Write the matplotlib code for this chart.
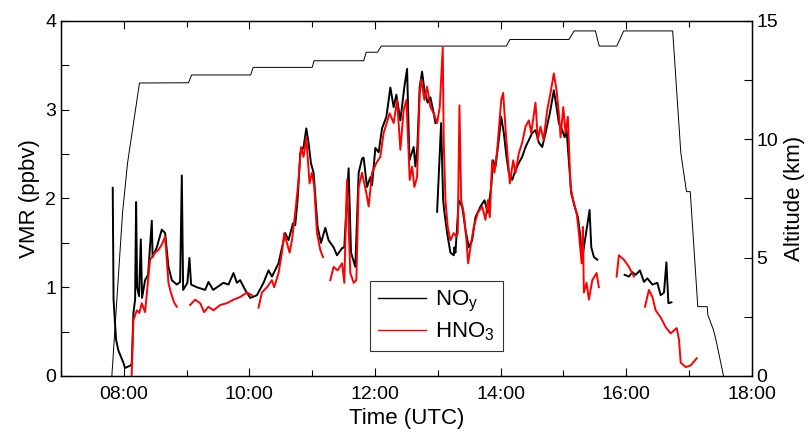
import numpy as np
import matplotlib
matplotlib.use("Agg")
import matplotlib.pyplot as plt
from matplotlib.ticker import MultipleLocator, FuncFormatter

plt.rcParams['font.family'] = ['Liberation Sans', 'DejaVu Sans']
plt.rcParams['mathtext.fontset'] = 'custom'
plt.rcParams['mathtext.rm'] = 'Liberation Sans'
plt.rcParams['mathtext.it'] = 'Liberation Sans'

# times in decimal hours (UTC), NaN = data gap
noy_t = [7.824, 7.837, 7.877, 7.913, 7.993, 8.020, 8.111, 8.127, 8.153, 8.180, 8.196, 8.212, 8.243,
         8.271, 8.291, 8.339, 8.387, 8.446, 8.459, 8.526, 8.605, 8.658, 8.711, 8.765, 8.844, 8.897,
         8.924, 8.945, 9.013, 9.045, 9.072, 9.163, 9.296, 9.348, 9.423, 9.587, 9.667, 9.747, 9.801,
         9.853, 9.933, 10.013, 10.12, 10.225, 10.305, 10.359, 10.464, 10.571, 10.623, 10.694, 10.73,
         10.767, 10.81, 10.863, 10.906, 10.942, 10.98, 11.022, 11.086, 11.14, 11.209, 11.261, 11.341,
         11.395, 11.475, 11.511, 11.58, 11.618, 11.687, 11.74, 11.794, 11.819, 11.873, 11.926, 11.953,
         12.006, 12.058, 12.112, 12.181, 12.245, 12.297, 12.34, 12.404, 12.468, 12.511, 12.548, 12.616,
         12.643, 12.675, 12.712, 12.75, 12.787, 12.839, 12.882, 12.935, 12.962, 12.975,
         12.989, 13.053, 13.085, 13.106, 13.149, 13.201, 13.254, 13.265, 13.281, 13.334, 13.388, 13.441,
         13.493, 13.547, 13.60, 13.68, 13.743, 13.796, 13.85, 13.882, 13.919, 13.971, 14.01, 14.051,
         14.094, 14.131, 14.185, 14.238, 14.29, 14.344, 14.397, 14.45, 14.504, 14.556, 14.609, 14.663,
         14.716, 14.784, 14.848, 14.891, 14.928, 14.982, 15.019, 15.051, 15.087, 15.125, 15.178, 15.231,
         15.263, 15.301, 15.326, 15.369, 15.417, 15.444, 15.486, 15.54, 15.75,
         15.975, 16.044, 16.098, 16.151, 16.219, 16.283, 16.337, 16.417, 16.496, 16.549, 16.602, 16.64,
         16.672, 16.72]
noy_v = [2.12, 0.86, 0.41, 0.29, 0.15, 0.09, 0.12, 0.14, 0.71, 0.86, 1.96, 1.00, 0.90,
         1.54, 0.88, 1.08, 1.14, 1.75, 1.34, 1.45, 1.65, 1.61, 1.23, 1.08, 1.03, 1.06,
         2.26, 0.97, 1.05, 1.33, 1.03, 1.00, 0.97, 1.06, 0.97, 1.05, 1.03, 1.16, 1.05,
         1.08, 0.97, 0.88, 0.91, 1.05, 1.19, 1.12, 1.27, 1.61, 1.53, 1.72, 1.70,
         1.98, 2.51, 2.58, 2.79, 2.63, 2.40, 2.29, 1.68, 1.50, 1.67, 1.53, 1.45,
         1.36, 1.44, 1.45, 2.34, 1.39, 1.23, 2.29, 2.45, 2.46, 2.13, 2.24, 2.15,
         2.57, 2.52, 2.79, 2.92, 3.25, 3.03, 3.17, 2.88, 3.26, 3.46, 2.43, 2.58,
         2.36, 2.58, 3.26, 3.43, 3.22, 3.08, 3.14, 2.96, 2.85, np.nan,
         1.85, 2.85, 1.98, 1.84, 1.61, 1.39, 1.36, 1.45, 1.39, 1.98, 1.91, 1.65,
         1.45, 1.53, 1.79, 1.91, 1.98, 1.84, 2.13, 2.43, 2.36, 2.66, 2.92, 2.74,
         2.47, 2.29, 2.21, 2.32, 2.40, 2.47, 2.58, 2.66, 2.74, 2.77, 2.63, 2.58,
         2.74, 2.96, 3.22, 3.03, 2.85, 2.77, 2.69, 2.77, 2.43, 2.06, 1.91, 1.79,
         1.61, 1.31, 1.45, 1.65, 1.87, 1.45, 1.34, 1.31, np.nan,
         1.14, 1.12, 1.17, 1.14, 1.19, 1.06, 1.10, 1.03, 1.05, 0.91, 0.94, 1.28,
         0.82, 0.83]

hno3_t = [8.125, 8.153, 8.207, 8.248, 8.286, 8.339, 8.376, 8.419, 8.498, 8.551, 8.605, 8.658, 8.685,
          8.711, 8.749, 8.801, 8.844, 8.95,
          9.056, 9.136, 9.216, 9.28, 9.348, 9.428, 9.535, 9.641, 9.747, 9.853, 9.96, 10.04, 10.09,
          10.145, 10.199, 10.279, 10.359, 10.395, 10.464, 10.518, 10.555, 10.64, 10.678, 10.73, 10.783,
          10.821, 10.863, 10.906, 10.958, 10.997, 11.033, 11.076, 11.129, 11.172, 11.23,
          11.288, 11.341, 11.405, 11.475, 11.511, 11.554, 11.607, 11.66, 11.703, 11.74, 11.794, 11.862,
          11.899, 11.953, 12.022, 12.085, 12.138, 12.234, 12.297, 12.352, 12.404, 12.457, 12.50, 12.553,
          12.591, 12.627, 12.67, 12.712, 12.734, 12.787, 12.83, 12.882, 12.935, 12.989, 13.031, 13.079,
          13.094, 13.122, 13.158, 13.201, 13.254, 13.297, 13.318, 13.345, 13.372, 13.413, 13.456, 13.483,
          13.531, 13.573, 13.637, 13.707, 13.759, 13.796, 13.828, 13.866, 13.903, 13.946, 14.01, 14.041,
          14.083, 14.147, 14.201, 14.238, 14.29, 14.344, 14.397, 14.45, 14.488, 14.556, 14.593, 14.636,
          14.684, 14.743, 14.795, 14.848, 14.891, 14.928, 14.955, 14.998, 15.034, 15.071, 15.114, 15.157,
          15.21, 15.247, 15.29, 15.31, 15.326, 15.369, 15.406, 15.46, 15.529, 15.565, 15.7,
          15.847, 15.884, 15.964, 16.044, 16.123, 16.2,
          16.299, 16.362, 16.417, 16.469, 16.549, 16.629, 16.708, 16.804, 16.841, 16.868, 16.947, 17.027,
          17.123]
hno3_v = [0.00, 0.63, 0.74, 0.71, 0.82, 0.72, 1.00, 1.31, 1.39, 1.42, 1.48, 1.57, 1.31,
          1.05, 0.94, 0.83, 0.78, np.nan,
          0.80, 0.86, 0.82, 0.72, 0.78, 0.74, 0.80, 0.82, 0.86, 0.89, 0.94, 0.91, np.nan,
          0.77, 0.94, 1.00, 1.08, 1.00, 1.16, 1.39, 1.61, 1.39, 1.53, 1.84, 2.21,
          2.58, 2.47, 2.69, 2.17, 2.29, 2.13, 1.61, 1.42, 1.34, np.nan,
          1.08, 1.23, 1.19, 1.27, 1.05, 2.21, 1.16, 1.05, 1.08, 2.13, 2.29, 2.06,
          1.91, 2.29, 2.40, 2.47, 2.74, 2.96, 2.85, 3.11, 2.55, 3.00, 3.11, 2.21,
          2.36, 2.13, 2.24, 3.19, 3.34, 3.11, 3.26, 3.03, 2.96, 2.85, 3.03, 3.70,
          2.66, 1.98, 1.68, 1.53, 1.61, 1.57, 1.61, 3.05, 1.98, 1.84, 1.53, 1.27,
          1.50, 1.68, 1.84, 1.91, 1.76, 1.98, 1.79, 2.43, 2.29, 2.55, 3.11, 3.19,
          2.74, 2.17, 2.43, 2.29, 2.51, 2.63, 2.81, 2.88, 2.74, 3.08, 2.66, 2.81,
          2.66, 3.00, 3.19, 3.41, 3.22, 2.96, 2.69, 3.03, 2.74, 2.92, 2.13, 1.98,
          1.84, 1.61, 1.27, 1.68, 0.94, 1.05, 0.86, 1.08, 1.16, 1.00, np.nan,
          1.12, 1.36, 1.31, 1.23, 1.12, np.nan,
          0.78, 0.97, 0.89, 0.74, 0.66, 0.55, 0.48, 0.54, 0.41, 0.15, 0.10, 0.12,
          0.20]

alt_t = [7.81, 7.98, 8.06, 8.25, 9.03, 9.08, 10.02, 10.06, 11.0, 11.03, 11.82, 11.86, 12.04, 12.10,
         14.09, 14.15, 15.09, 15.17, 15.51, 15.57, 15.85, 15.96, 16.74, 16.87, 16.96, 17.02, 17.14,
         17.29, 17.30, 17.35, 17.39, 17.43, 17.55]
alt_km = [0.0, 6.89, 9.0, 12.38, 12.39, 12.72, 12.72, 13.04, 13.04, 13.32, 13.32, 13.68, 13.68, 13.94,
          13.94, 14.22, 14.22, 14.58, 14.58, 13.94, 13.94, 14.58, 14.58, 9.42, 7.79, 7.79, 2.93,
          2.93, 2.58, 2.23, 1.94, 1.52, 0.0]


def hhmm(x, pos):
    h = int(round(x * 60)) // 60
    m = int(round(x * 60)) % 60
    return "%02d:%02d" % (h, m)


fig = plt.figure(figsize=(8.11, 4.41), dpi=100)
ax = fig.add_axes([0.0752, 0.1474, 0.8518, 0.8050])
ax2 = ax.twinx()

l1, = ax.plot(noy_t, noy_v, color='black', lw=1.4, label=r'NO$_\mathrm{y}$')
l2, = ax.plot(hno3_t, hno3_v, color='#ff0000', lw=1.4, label=r'HNO$_\mathrm{3}$')
ax2.plot(alt_t, alt_km, color='black', lw=0.7)

ax.set_xlim(7, 18)
ax.set_ylim(0, 4)
ax2.set_ylim(0, 15)

ax.xaxis.set_major_locator(MultipleLocator(2))
ax.xaxis.set_minor_locator(MultipleLocator(1))
ax.xaxis.set_major_formatter(FuncFormatter(hhmm))
ax.yaxis.set_major_locator(MultipleLocator(1))
ax.yaxis.set_minor_locator(MultipleLocator(0.5))
ax2.yaxis.set_major_locator(MultipleLocator(5))
ax2.yaxis.set_minor_locator(MultipleLocator(2.5))

ax.tick_params(which='both', direction='in', top=True, right=False, labelsize=14, width=0.8)
ax.tick_params(which='major', length=6)
ax.tick_params(which='minor', length=4)
ax.tick_params(axis='y', which='minor', length=6)
ax2.tick_params(which='both', direction='in', labelsize=14, width=0.8, length=6)
ax.tick_params(axis='x', pad=7)

ax.set_xlabel('Time (UTC)', fontsize=16)
ax.set_ylabel('VMR (ppbv)', fontsize=16)
ax2.set_ylabel('Altitude (km)', fontsize=16)

for a in (ax, ax2):
    for s in a.spines.values():
        s.set_linewidth(0.9)

leg = ax2.legend(handles=[l1, l2], loc='lower left', bbox_to_anchor=(0.447, 0.07),
                 fontsize=16, frameon=True, fancybox=False, edgecolor='black',
                 handlelength=2.2, handletextpad=0.4, borderpad=0.35, labelspacing=0.3,
                 borderaxespad=0)
leg.get_frame().set_linewidth(0.8)
for h in leg.get_lines():
    h.set_linewidth(1.0)

fig.savefig('out.png', dpi=100)
